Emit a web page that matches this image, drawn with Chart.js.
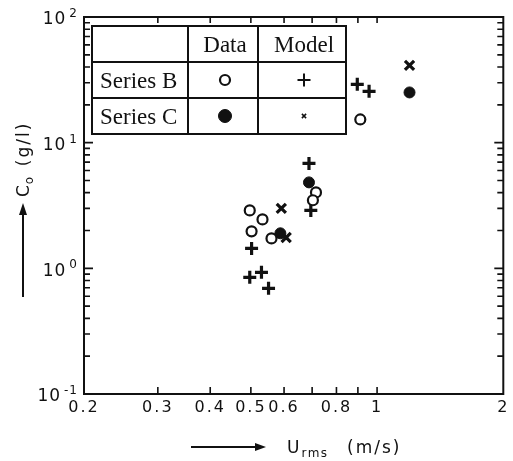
<!DOCTYPE html>
<html>
<head>
<meta charset="utf-8">
<script src="https://cdn.jsdelivr.net/npm/chart.js@4.4.1/dist/chart.umd.min.js"></script>
<style>
  html, body { margin: 0; padding: 0; background: #fff; }
  #wrap { width: 513px; height: 461px; }
</style>
</head>
<body>
<div id="wrap"><canvas id="c" width="513" height="461"></canvas></div>
<script>
// Axis ticks
const xTickValues = [0.2, 0.3, 0.4, 0.5, 0.6, 0.7, 0.8, 0.9, 1, 2];
const xTickLabels = ['0.2', '0.3', '0.4', '0.5', '0.6', '', '0.8', '', '1', '2'];
const yTickValues = [0.1, 1, 10, 100];
const yTickExponents = ['-1', '0', '1', '2'];

// Legend table text
const rowLabels = ['Series B', 'Series C'];
const colLabels = ['Data', 'Model'];

// Series B: measured (open circles) and model (plus)
const bDataX = [0.497, 0.533, 0.502, 0.560, 0.715, 0.703, 0.912];
const bDataY = [2.89, 2.45, 1.97, 1.73, 4.02, 3.48, 15.3];
const bModelX = [0.688, 0.695, 0.502, 0.497, 0.530, 0.551, 0.897, 0.957];
const bModelY = [6.84, 2.89, 1.44, 0.848, 0.93, 0.693, 29.1, 25.6];

// Series C: measured (filled circles) and model (x)
const cDataX = [0.688, 0.588, 1.195];
const cDataY = [4.83, 1.90, 25.1];
const cModelX = [0.591, 0.607, 1.195];
const cModelY = [3.00, 1.76, 41.2];

const pts = (xs, ys) => xs.map((x, i) => ({ x: x, y: ys[i] }));

const INK = '#111';

const datasets = [
  { label: 'Series B Data', data: pts(bDataX, bDataY), pointStyle: 'circle', pointRadius: 5,
    borderColor: INK, backgroundColor: '#fff', borderWidth: 2.2 },
  { label: 'Series B Model', data: pts(bModelX, bModelY), pointStyle: 'cross', pointRadius: 6.5,
    borderColor: INK, backgroundColor: INK, borderWidth: 3.2 },
  { label: 'Series C Data', data: pts(cDataX, cDataY), pointStyle: 'circle', pointRadius: 5.5,
    borderColor: INK, backgroundColor: INK, borderWidth: 1 },
  { label: 'Series C Model', data: pts(cModelX, cModelY), pointStyle: 'crossRot', pointRadius: 6.5,
    borderColor: INK, backgroundColor: INK, borderWidth: 3.2 }
];

function drawSup(ctx, base, sup, x, y, size) {
  // right-aligned "base^sup" ending at x, vertically centred on y
  ctx.font = size + 'px "DejaVu Sans"';
  const bw = ctx.measureText(base).width;
  ctx.font = Math.round(size * 0.68) + 'px "DejaVu Sans"';
  const sw = ctx.measureText(sup).width;
  const start = x - bw - sw - 3;
  ctx.textAlign = 'left';
  ctx.textBaseline = 'middle';
  ctx.font = size + 'px "DejaVu Sans"';
  ctx.fillText(base, start, y);
  ctx.font = Math.round(size * 0.68) + 'px "DejaVu Sans"';
  ctx.fillText(sup, start + bw + 3, y - 6);
}

const framePlugin = {
  id: 'frame',
  afterDraw(chart) {
    const ctx = chart.ctx;
    const xs = chart.scales.x, ys = chart.scales.y;
    const a = chart.chartArea;
    ctx.save();
    ctx.strokeStyle = INK;
    ctx.fillStyle = INK;

    // plot frame
    ctx.lineWidth = 2;
    ctx.strokeRect(a.left, a.top, a.right - a.left, a.bottom - a.top);

    // inward ticks on the horizontal edges
    ctx.lineWidth = 1.6;
    xTickValues.forEach(v => {
      if (v <= 0.2 || v >= 2) return;
      const px = xs.getPixelForValue(v);
      ctx.beginPath();
      ctx.moveTo(px, a.bottom); ctx.lineTo(px, a.bottom - 7);
      ctx.moveTo(px, a.top); ctx.lineTo(px, a.top + 6);
      ctx.stroke();
    });

    // inward minor ticks on the vertical edges (log decades)
    for (let d = -1; d < 2; d++) {
      for (let m = 1; m <= 9; m++) {
        const v = m * Math.pow(10, d);
        const py = ys.getPixelForValue(v);
        const len = m === 1 ? 9 : 6;
        ctx.beginPath();
        ctx.moveTo(a.left, py); ctx.lineTo(a.left + len, py);
        ctx.moveTo(a.right, py); ctx.lineTo(a.right - len, py);
        ctx.stroke();
      }
    }

    // x tick labels
    ctx.font = '16px "DejaVu Sans"';
    ctx.textAlign = 'center';
    ctx.textBaseline = 'middle';
    ctx.letterSpacing = '2px';
    xTickValues.forEach((v, i) => {
      if (!xTickLabels[i]) return;
      ctx.fillText(xTickLabels[i], xs.getPixelForValue(v), a.bottom + 14);
    });
    ctx.letterSpacing = '1px';

    // y tick labels
    yTickValues.forEach((v, i) => {
      const py = ys.getPixelForValue(v);
      drawSup(ctx, '10', yTickExponents[i], a.left - 6, py + 3, 17);
    });
    ctx.letterSpacing = '0px';

    // x axis title with arrow
    const ty = 447;
    ctx.lineWidth = 2;
    ctx.beginPath(); ctx.moveTo(191, ty); ctx.lineTo(258, ty); ctx.stroke();
    ctx.beginPath(); ctx.moveTo(266, ty); ctx.lineTo(255, ty - 4); ctx.lineTo(255, ty + 4); ctx.closePath(); ctx.fill();
    ctx.textAlign = 'left';
    ctx.textBaseline = 'alphabetic';
    ctx.font = '17px "DejaVu Sans"';
    ctx.fillText('U', 287, ty + 6);
    const uw = ctx.measureText('U').width;
    ctx.font = '12px "DejaVu Sans"';
    ctx.letterSpacing = '1.5px';
    ctx.fillText('rms', 287 + uw + 2, ty + 10);
    ctx.font = '17px "DejaVu Sans"';
    ctx.letterSpacing = '2px';
    ctx.fillText('(m/s)', 347, ty + 6);
    ctx.letterSpacing = '0px';

    // y axis title with arrow (rotated)
    const tx = 23;
    ctx.beginPath(); ctx.moveTo(tx, 297); ctx.lineTo(tx, 212); ctx.stroke();
    ctx.beginPath(); ctx.moveTo(tx, 203); ctx.lineTo(tx - 4, 215); ctx.lineTo(tx + 4, 215); ctx.closePath(); ctx.fill();
    ctx.save();
    ctx.translate(tx + 6, 197);
    ctx.rotate(-Math.PI / 2);
    ctx.font = '17px "DejaVu Sans"';
    ctx.fillText('C', 0, 0);
    const cw = ctx.measureText('C').width;
    ctx.font = '12px "DejaVu Sans"';
    ctx.fillText('o', cw + 1, 4);
    ctx.font = '17px "DejaVu Sans"';
    ctx.letterSpacing = '2px';
    ctx.fillText('(g/l)', cw + 19, 0);
    ctx.restore();

    // legend table
    const L = 92, R = 346, T = 26, B = 134;
    const c1 = 188, c2 = 258, r1 = 62, r2 = 98;
    ctx.fillStyle = '#fff';
    ctx.fillRect(L, T, R - L, B - T);
    ctx.fillStyle = INK;
    ctx.lineWidth = 2;
    ctx.strokeRect(L, T, R - L, B - T);
    ctx.beginPath();
    ctx.moveTo(c1, T); ctx.lineTo(c1, B);
    ctx.moveTo(c2, T); ctx.lineTo(c2, B);
    ctx.moveTo(L, r1); ctx.lineTo(R, r1);
    ctx.moveTo(L, r2); ctx.lineTo(R, r2);
    ctx.stroke();

    ctx.font = '23px "Liberation Serif"';
    ctx.textBaseline = 'middle';
    ctx.textAlign = 'center';
    ctx.letterSpacing = '0px';
    ctx.fillText(colLabels[0], (c1 + c2) / 2 + 2, (T + r1) / 2 + 2);
    ctx.fillText(colLabels[1], (c2 + R) / 2 + 2, (T + r1) / 2 + 2);
    ctx.textAlign = 'left';
    ctx.fillText(rowLabels[0], 100, (r1 + r2) / 2 + 2);
    ctx.fillText(rowLabels[1], 100, (r2 + B) / 2 + 2);

    const rowsY = [(r1 + r2) / 2, (r2 + B) / 2];
    const colX = [(c1 + c2) / 2 + 2, (c2 + R) / 2 + 2];
    const sym = [
      [datasets[0], datasets[1]],
      [datasets[2], datasets[3]]
    ];
    sym.forEach((row, ri) => {
      row.forEach((ds, ci) => {
        ctx.strokeStyle = ds.borderColor;
        ctx.fillStyle = ds.backgroundColor;
        let r = ds.pointRadius, w = ds.borderWidth;
        if (ri === 1 && ci === 1) { r = 3; w = 1.5; }
        if (ri === 0 && ci === 1) { w = 2; }
        if (ri === 1 && ci === 0) { r = 6.5; }
        ctx.lineWidth = w;
        Chart.helpers.drawPoint(ctx, { pointStyle: ds.pointStyle, radius: r, borderWidth: w },
          colX[ci], rowsY[ri]);
      });
    });
    ctx.restore();
  }
};

new Chart(document.getElementById('c'), {
  type: 'scatter',
  data: { datasets: datasets },
  options: {
    responsive: false,
    animation: false,
    devicePixelRatio: 1,
    layout: { padding: { left: 84, right: 4, top: 17, bottom: 67 } },
    plugins: { legend: { display: false }, tooltip: { enabled: false } },
    scales: {
      x: { type: 'logarithmic', min: 0.2, max: 2, display: false },
      y: { type: 'logarithmic', min: 0.1, max: 100, display: false }
    }
  },
  plugins: [framePlugin]
});
</script>
</body>
</html>
